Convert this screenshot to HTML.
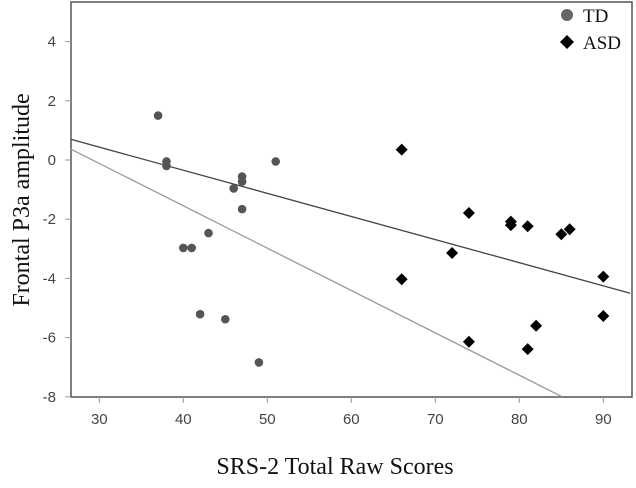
<!DOCTYPE html>
<html><head><meta charset="utf-8"><style>
body{margin:0;background:#fff;}
svg text{font-family:"Liberation Sans",sans-serif;}
</style></head><body>
<svg id="chart" width="636" height="483" xmlns="http://www.w3.org/2000/svg">
<rect x="71" y="2" width="561" height="395" fill="#fff" stroke="#555" stroke-width="1.5"/>
<g id="axes"></g>
<g id="lines"></g>
<g id="pts"></g>
<text transform="translate(29,200) rotate(-90)" text-anchor="middle" font-size="24" style="font-family:'Liberation Serif',serif" fill="#111">Frontal P3a amplitude</text>
<text x="335" y="474" text-anchor="middle" font-size="24" style="font-family:'Liberation Serif',serif" fill="#111">SRS-2 Total Raw Scores</text>
<g>
<circle cx="567" cy="15" r="6" fill="#666"/>
<text x="583" y="22" font-size="19" style="font-family:'Liberation Serif',serif" fill="#111">TD</text>
<path d="M567,35 L574,42 L567,49 L560,42 Z" fill="#000"/>
<text x="583" y="49" font-size="19" style="font-family:'Liberation Serif',serif" fill="#111">ASD</text>
</g>
</svg>
<script>
const xTicks=[30,40,50,60,70,80,90];
const yTicks=[4,2,0,-2,-4,-6,-8];
const tdX=[37,38,38,51,47,47,46,47,43,40,41,42,45,49];
const tdY=[1.5,-0.05,-0.2,-0.05,-0.56,-0.73,-0.96,-1.66,-2.47,-2.97,-2.97,-5.21,-5.38,-6.84];
const asdX=[66,66,74,72,79,79,81,85,86,90,90,82,74,81];
const asdY=[0.35,-4.03,-1.79,-3.14,-2.08,-2.2,-2.24,-2.51,-2.34,-3.94,-5.27,-5.6,-6.14,-6.39];
const fitDark=[[26.6,0.7],[93.2,-4.5]];
const fitLight=[[26.6,0.37],[85.1,-8]];
const sx=v=>99.3+(v-30)*8.4;
const sy=v=>160-v*29.6;
const NS='http://www.w3.org/2000/svg';
function mk(t,a,p){const e=document.createElementNS(NS,t);for(const k in a)e.setAttribute(k,a[k]);p.appendChild(e);return e;}
const ax=document.getElementById('axes');
xTicks.forEach(v=>{
 const l=mk('line',{x1:sx(v),x2:sx(v),y1:397,y2:403,stroke:'#999','stroke-width':1},ax);
 
 
 const t=mk('text',{x:sx(v),y:424,'text-anchor':'middle','font-size':15,fill:'#444'},ax);
 
 
 t.textContent=v;
});
yTicks.forEach(v=>{
 const l=mk('line',{x1:65,x2:71,y1:sy(v),y2:sy(v),stroke:'#999','stroke-width':1},ax);
 
 
 const t=mk('text',{x:56,y:sy(v)+5,'text-anchor':'end','font-size':15,fill:'#444'},ax);
 
 
 t.textContent=v;
});
const lg=document.getElementById('lines');
const d=mk('line',{x1:sx(fitDark[0][0]),y1:sy(fitDark[0][1]),x2:sx(fitDark[1][0]),y2:sy(fitDark[1][1]),stroke:'#444','stroke-width':1.3},lg);


const li=mk('line',{x1:sx(fitLight[0][0]),y1:sy(fitLight[0][1]),x2:sx(fitLight[1][0]),y2:sy(fitLight[1][1]),stroke:'#999','stroke-width':1.3},lg);


const pg=document.getElementById('pts');
tdX.forEach((x,i)=>{
 const c=mk('circle',{cx:sx(x),cy:sy(tdY[i]),r:4.3,fill:'#555'},pg);
 
 
});
asdX.forEach((x,i)=>{
 const X=sx(x),Y=sy(asdY[i]);
 const p=mk('path',{d:`M${X},${Y-6} L${X+6},${Y} L${X},${Y+6} L${X-6},${Y} Z`,fill:'#000'},pg);
 
 
});
</script>
</body></html>
